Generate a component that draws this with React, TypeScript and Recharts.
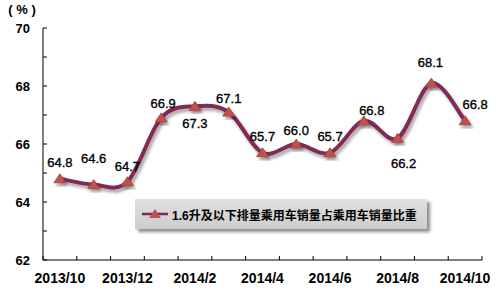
import { LineChart, Line, XAxis, YAxis, Legend, LabelList } from 'recharts';

const months = [
  '2013/10', '2013/11', '2013/12', '2014/1', '2014/2', '2014/3', '2014/4',
  '2014/5', '2014/6', '2014/7', '2014/8', '2014/9', '2014/10',
];
const shareValues = [64.8, 64.6, 64.7, 66.9, 67.3, 67.1, 65.7, 66.0, 65.7, 66.8, 66.2, 68.1, 66.8];
const yTicks = [62, 63, 64, 65, 66, 67, 68, 69, 70];
const SERIES_NAME = '1.6升及以下排量乘用车销量占乘用车销量比重';

// where each data label sits relative to its point (dx, dy), as in the original
const labelShift: [number, number][] = [
  [0, -16], [0, -26], [0, -15], [2, -14], [0, 17], [0, -14], [0, -16],
  [0, -14], [0, -16], [8, -10], [6, 25], [-1, -21], [10, -16],
];

const W = 501;
const H = 298;
const MARGIN = { top: 28, right: 19, bottom: 0, left: 0 };
const Y_W = 43;
const X_H = 38;
const BAND = (W - MARGIN.left - MARGIN.right - Y_W) / months.length;

const LINE_COLOR = '#822a56';
const MARKER_COLOR = '#c0504d';
const FONT = 'Arial, "Liberation Sans", "Noto Sans CJK SC", sans-serif';

const data = months.map((m, i) => ({ month: m, share: shareValues[i] }));

const Triangle = ({ cx, cy }: any) => {
  if (cx == null || cy == null) return null;
  return (
    <polygon
      points={`${cx},${cy - 5} ${cx - 6},${cy + 4} ${cx + 6},${cy + 4}`}
      fill={MARKER_COLOR}
      stroke="#a8403e"
      strokeWidth={0.8}
      filter="url(#dropShadow)"
    />
  );
};

const YTick = ({ x, y, payload }: any) => (
  <g>
    <line x1={x} x2={x + 4} y1={y} y2={y} stroke="#000" />
    {payload.value % 2 === 0 && (
      <text x={x - 13} y={y} dy="0.35em" textAnchor="end" fontSize={13} fontWeight="bold" fill="#000">
        {payload.value}
      </text>
    )}
  </g>
);

const XTick = ({ x, y, payload, index }: any) => (
  <g>
    <line x1={x - BAND / 2} x2={x - BAND / 2} y1={y} y2={y - 4} stroke="#000" />
    {index === months.length - 1 && (
      <line x1={x + BAND / 2} x2={x + BAND / 2} y1={y} y2={y - 4} stroke="#000" />
    )}
    {index % 2 === 0 && (
      <text x={x} y={y + 18} dy="0.35em" textAnchor="middle" fontSize={14} fontWeight="bold" fill="#000">
        {payload.value}
      </text>
    )}
  </g>
);

const renderValue = (props: any) => {
  const { x, y, value, index } = props;
  const [dx, dy] = labelShift[index] || [0, -15];
  return (
    <text
      x={x + dx}
      y={y + dy}
      dy="0.35em"
      textAnchor="middle"
      fontSize={13}
      fill="#000"
      stroke="#000"
      strokeWidth={0.35}
    >
      {Number(value).toFixed(1)}
    </text>
  );
};

const LegendBox = () => (
  <div
    style={{
      width: 292,
      height: 30,
      boxSizing: 'border-box',
      background: 'linear-gradient(#e0e0e0, #cdcdcd)',
      boxShadow: '3px 3px 3px rgba(0,0,0,0.45)',
      display: 'flex',
      alignItems: 'center',
      paddingLeft: 7,
      fontFamily: FONT,
    }}
  >
    <svg width={26} height={12}>
      <line x1={0} x2={26} y1={6} y2={6} stroke={LINE_COLOR} strokeWidth={2.5} />
      <polygon points="13,1 7,10 19,10" fill={MARKER_COLOR} />
    </svg>
    <span style={{ marginLeft: 4, fontSize: 12, fontWeight: 'bold', color: '#000', whiteSpace: 'nowrap' }}>
      {SERIES_NAME}
    </span>
  </div>
);

// Excel-style smoothing (Catmull-Rom through every point)
const excelSmooth = (context: any) => {
  let pts: [number, number][] = [];
  return {
    areaStart() {},
    areaEnd() {},
    lineStart() {
      pts = [];
    },
    point(x: number, y: number) {
      pts.push([+x, +y]);
    },
    lineEnd() {
      if (!pts.length) return;
      context.moveTo(pts[0][0], pts[0][1]);
      for (let i = 0; i < pts.length - 1; i++) {
        const p0 = pts[i - 1] || pts[i];
        const p1 = pts[i];
        const p2 = pts[i + 1];
        const p3 = pts[i + 2] || p2;
        context.bezierCurveTo(
          p1[0] + (p2[0] - p0[0]) / 6,
          p1[1] + (p2[1] - p0[1]) / 6,
          p2[0] - (p3[0] - p1[0]) / 6,
          p2[1] - (p3[1] - p1[1]) / 6,
          p2[0],
          p2[1],
        );
      }
    },
  };
};

export default function App() {
  return (
    <div style={{ position: 'absolute', left: 0, top: 0, width: W, height: H, background: '#fff', fontFamily: FONT }}>
      <LineChart width={W} height={H} data={data} margin={MARGIN}>
        <defs>
          <filter id="dropShadow" x="-20%" y="-20%" width="140%" height="160%">
            <feDropShadow dx="2" dy="3" stdDeviation="1.5" floodColor="#000" floodOpacity="0.35" />
          </filter>
        </defs>
        <XAxis
          dataKey="month"
          height={X_H}
          interval={0}
          padding={{ left: BAND / 2, right: BAND / 2 }}
          axisLine={{ stroke: '#000' }}
          tickLine={false}
          tickSize={0}
          tickMargin={0}
          tick={<XTick />}
        />
        <YAxis
          width={Y_W}
          domain={[62, 70]}
          ticks={yTicks}
          interval={0}
          axisLine={{ stroke: '#000' }}
          tickLine={false}
          tickSize={0}
          tickMargin={0}
          tick={<YTick />}
          label={{
            position: 'top',
            content: ({ viewBox }: any) => (
              <text x={viewBox.x + 22} y={viewBox.y - 19} dy="0.35em" textAnchor="middle" fontSize={13} fontWeight="bold" fill="#000">
                ( % )
              </text>
            ),
          }}
        />
        <Legend
          layout="vertical"
          align="center"
          verticalAlign="middle"
          wrapperStyle={{ left: 135, top: 199, width: 292 }}
          content={() => <LegendBox />}
        />
        <Line
          dataKey="share"
          name={SERIES_NAME}
          type={excelSmooth as any}
          stroke={LINE_COLOR}
          strokeWidth={4}
          filter="url(#dropShadow)"
          dot={<Triangle />}
          activeDot={false}
          isAnimationActive={false}
        >
          <LabelList dataKey="share" content={renderValue} />
        </Line>
      </LineChart>
    </div>
  );
}
